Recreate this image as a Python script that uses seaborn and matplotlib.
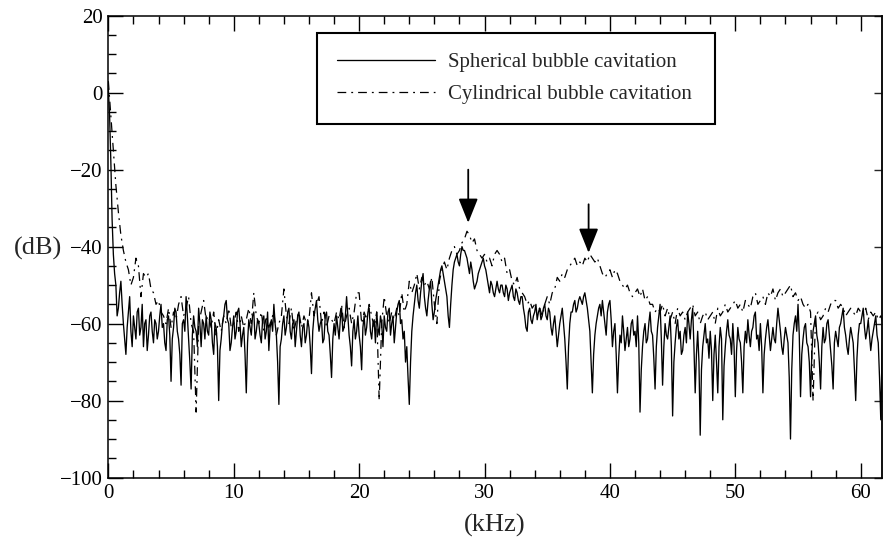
import numpy as np
import pandas as pd
import matplotlib
matplotlib.use("Agg")
import matplotlib.pyplot as plt
from matplotlib.ticker import MultipleLocator
import seaborn as sns

# Frequency grids of the two spectra (kHz)
sph_start_khz, sph_step_khz = 0.0, 0.1
cyl_start_khz, cyl_step_khz = 0.0, 0.2

# Spectrum level, spherical bubble cavitation (dB), one row per 1 kHz
spherical_db = [
    1, -6, -18, -33, -42, -47, -50, -58, -56, -52,
    -49, -55, -60, -64, -68, -61, -57, -53, -62, -66,
    -58, -61, -64, -57, -56, -63, -61, -55, -66, -60,
    -59, -67, -63, -58, -57, -62, -65, -59, -60, -64,
    -62, -58, -55, -61, -60, -65, -67, -59, -58, -63,
    -75, -64, -61, -56, -57, -62, -64, -68, -76, -60,
    -59, -62, -53, -58, -64, -70, -77, -63, -58, -61,
    -62, -66, -56, -60, -66, -59, -60, -64, -58, -62,
    -63, -57, -59, -65, -68, -60, -61, -66, -80, -67,
    -64, -60, -58, -55, -54, -59, -60, -67, -65, -61,
    -58, -64, -62, -57, -56, -60, -66, -63, -61, -68,
    -78, -65, -59, -61, -63, -58, -57, -64, -62, -59,
    -60, -63, -65, -59, -58, -64, -62, -57, -67, -61,
    -59, -62, -55, -60, -63, -70, -81, -66, -64, -60,
    -58, -63, -61, -57, -56, -62, -64, -60, -59, -66,
    -62, -58, -57, -63, -66, -61, -60, -65, -63, -59,
    -61, -66, -73, -62, -58, -56, -54, -59, -62, -60,
    -59, -65, -64, -58, -57, -62, -63, -68, -74, -64,
    -60, -63, -58, -61, -64, -59, -56, -62, -61, -58,
    -53, -58, -63, -66, -71, -62, -59, -64, -62, -58,
    -63, -66, -72, -61, -58, -63, -61, -57, -56, -62,
    -64, -60, -59, -65, -57, -61, -63, -58, -60, -66,
    -58, -61, -62, -57, -56, -63, -60, -58, -65, -61,
    -57, -55, -54, -60, -59, -64, -62, -70, -66, -74,
    -81, -70, -62, -58, -55, -52, -50, -54, -56, -52,
    -49, -47, -53, -56, -58, -54, -51, -49, -55, -59,
    -57, -54, -52, -50, -48, -46, -45, -47, -49, -51,
    -53, -58, -61, -55, -50, -46, -44, -43, -42, -44,
    -45, -42, -40, -41, -41, -42, -43, -45, -47, -44,
    -46, -49, -51, -50, -49, -47, -46, -45, -44, -43,
    -45, -46, -48, -50, -52, -49, -50, -52, -53, -51,
    -49, -51, -52, -50, -50, -52, -53, -50, -51, -54,
    -52, -51, -50, -53, -54, -51, -52, -54, -55, -53,
    -53, -56, -58, -61, -62, -57, -56, -59, -60, -58,
    -57, -55, -59, -57, -56, -59, -58, -56, -55, -58,
    -59, -56, -57, -61, -63, -60, -58, -62, -66, -63,
    -60, -58, -56, -60, -64, -70, -77, -66, -60, -57,
    -57, -55, -54, -57, -56, -54, -53, -54, -55, -53,
    -52, -54, -56, -59, -62, -70, -78, -68, -63, -60,
    -58, -56, -55, -58, -54, -57, -60, -63, -57, -55,
    -54, -59, -66, -62, -60, -68, -78, -69, -63, -65,
    -58, -62, -67, -64, -61, -66, -64, -60, -59, -63,
    -62, -66, -58, -65, -83, -72, -66, -62, -60, -65,
    -64, -60, -57, -62, -63, -69, -77, -66, -61, -58,
    -55, -64, -76, -66, -60, -63, -64, -61, -58, -66,
    -84, -70, -65, -61, -59, -64, -62, -68, -67, -63,
    -61, -65, -57, -60, -64, -59, -56, -66, -78, -68,
    -62, -70, -89, -72, -66, -63, -60, -65, -64, -69,
    -62, -67, -80, -68, -63, -70, -78, -66, -61, -64,
    -85, -71, -66, -62, -59, -63, -64, -68, -60, -66,
    -79, -67, -61, -64, -65, -70, -78, -66, -62, -65,
    -59, -63, -66, -62, -61, -58, -57, -64, -63, -67,
    -60, -66, -78, -68, -64, -61, -59, -63, -67, -64,
    -61, -64, -65, -60, -56, -59, -62, -66, -68, -64,
    -61, -63, -65, -74, -90, -72, -63, -60, -58, -62,
    -55, -63, -79, -68, -64, -61, -60, -65, -66, -70,
    -79, -68, -62, -60, -58, -63, -65, -70, -77, -66,
    -61, -65, -64, -60, -59, -63, -67, -71, -77, -65,
    -62, -64, -66, -61, -60, -58, -56, -61, -63, -66,
    -68, -64, -61, -63, -65, -72, -80, -69, -63, -60,
    -60, -58, -56, -61, -64, -62, -59, -63, -67, -64,
    -62, -60, -58, -63, -65, -74, -85, -68, -60, -63,
]

# Spectrum level, cylindrical bubble cavitation (dB), one row per 2 kHz
cylindrical_db = [
    3, -6, -15, -24, -31, -37, -41, -44, -46, -50,
    -48, -43, -45, -53, -47, -48, -47, -51, -52, -55,
    -54, -57, -58, -60, -56, -61, -57, -59, -55, -53,
    -58, -56, -53, -60, -62, -83, -60, -57, -54, -59,
    -58, -61, -57, -63, -59, -62, -58, -60, -56, -61,
    -60, -57, -62, -58, -61, -59, -56, -60, -52, -58,
    -60, -57, -62, -58, -61, -59, -57, -63, -60, -58,
    -51, -58, -60, -56, -62, -59, -57, -61, -58, -60,
    -59, -52, -58, -55, -53, -60, -57, -61, -58, -59,
    -60, -57, -59, -55, -61, -58, -56, -60, -57, -52,
    -52, -60, -57, -59, -55, -58, -61, -57, -80, -60,
    -53, -58, -60, -57, -59, -56, -58, -52, -57, -55,
    -49, -52, -50, -47, -51, -48, -50, -49, -51, -48,
    -55, -60, -49, -46, -44, -46, -43, -41, -40, -42,
    -41, -39, -38, -36, -37, -39, -38, -41, -42, -43,
    -42, -44, -43, -45, -42, -41, -42, -44, -43, -47,
    -46, -49, -50, -48, -51, -52, -53, -55, -54, -56,
    -55, -57, -56, -58, -55, -53, -55, -52, -51, -48,
    -49, -47, -48, -46, -45, -44, -43, -45, -44, -45,
    -43, -44, -42, -43, -44, -43, -45, -47, -48, -47,
    -46, -48, -46, -47, -49, -50, -51, -50, -52, -53,
    -52, -51, -53, -51, -54, -53, -55, -55, -57, -56,
    -57, -55, -58, -56, -59, -57, -60, -56, -58, -57,
    -59, -57, -56, -55, -58, -57, -60, -58, -57, -59,
    -58, -57, -60, -56, -58, -57, -55, -57, -56, -55,
    -54, -56, -55, -57, -54, -55, -56, -53, -52, -55,
    -54, -53, -55, -52, -53, -51, -54, -52, -51, -53,
    -52, -51, -50, -53, -52, -54, -53, -55, -56, -55,
    -57, -80, -58, -57, -59, -58, -56, -57, -55, -54,
    -54, -56, -55, -56, -58, -57, -56, -57, -58, -56,
    -57, -58, -56, -59, -57, -58, -57, -59, -58, -60,
]

series_labels = ["Spherical bubble cavitation", "Cylindrical bubble cavitation"]

# Resonance peaks marked with arrows (kHz, arrow tail dB, arrow tip dB)
peak_khz = [28.7, 38.3]
arrow_tail_db = [-20.0, -29.0]
arrow_tip_db = [-33.8, -41.6]

sph_khz = np.round(sph_start_khz + sph_step_khz * np.arange(len(spherical_db)), 2)
cyl_khz = np.round(cyl_start_khz + cyl_step_khz * np.arange(len(cylindrical_db)), 2)
df_sph = pd.DataFrame({"kHz": sph_khz, "dB": spherical_db})
df_cyl = pd.DataFrame({"kHz": cyl_khz, "dB": cylindrical_db})

sns.set_style("ticks")
plt.rcParams["font.family"] = ["Liberation Serif", "DejaVu Serif"]

fig = plt.figure(figsize=(8.83, 5.44), dpi=100)
ax = fig.add_axes([0.1227, 0.1222, 0.8762, 0.8489])

dashdot = (0, (7, 4, 1.5, 4))
sns.lineplot(data=df_cyl, x="kHz", y="dB", ax=ax, color="black", lw=0.9,
             linestyle=dashdot, estimator=None, label=series_labels[1])
sns.lineplot(data=df_sph, x="kHz", y="dB", ax=ax, color="black", lw=0.95,
             estimator=None, label=series_labels[0])

for fx, ty, hy in zip(peak_khz, arrow_tail_db, arrow_tip_db):
    ax.annotate("", xy=(fx, hy), xytext=(fx, ty),
                arrowprops=dict(arrowstyle="-|>,head_length=0.75,head_width=0.3",
                                mutation_scale=20, lw=1.3, color="black",
                                shrinkA=0, shrinkB=0))

ax.set_xlim(0, 61.7)
ax.set_ylim(-100, 20)
ax.xaxis.set_major_locator(MultipleLocator(10))
ax.xaxis.set_minor_locator(MultipleLocator(2))
ax.yaxis.set_major_locator(MultipleLocator(20))
ax.yaxis.set_minor_locator(MultipleLocator(5))
ax.tick_params(axis="both", which="both", direction="in", colors="black",
               labelsize=15, width=1.0)
ax.tick_params(axis="x", which="both", top=True)
ax.tick_params(axis="both", which="major", length=11)
ax.tick_params(axis="both", which="minor", length=6)
ax.tick_params(axis="x", which="major", pad=5)
ax.tick_params(axis="y", which="major", pad=4)

right = ax.secondary_yaxis("right")
right.yaxis.set_major_locator(MultipleLocator(20))
right.tick_params(direction="in", length=6, width=1.0, labelright=False)

for s in ax.spines.values():
    s.set_linewidth(1.1)
    s.set_color("black")
right.spines["right"].set_linewidth(1.1)

ax.set_xlabel("(kHz)", fontsize=19)
ax.set_ylabel("(dB)", fontsize=19, rotation=0, ha="center", va="center")
ax.xaxis.set_label_coords(0.5, -0.078)
ax.yaxis.set_label_coords(-0.091, 0.497)

handles, labels = ax.get_legend_handles_labels()
order = [labels.index(series_labels[0]), labels.index(series_labels[1])]
leg = ax.legend([handles[i] for i in order], [labels[i] for i in order],
                loc="upper left", bbox_to_anchor=(0.2697, 0.9625, 0.5143, 0.0),
                mode="expand", fontsize=15, frameon=True, fancybox=False,
                handlelength=4.7, handletextpad=0.65, labelspacing=0.6,
                borderpad=0.95, borderaxespad=0.0)
leg.get_frame().set_edgecolor("black")
leg.get_frame().set_linewidth(1.5)
leg.get_frame().set_alpha(1.0)

fig.savefig("out.png", dpi=100, facecolor="white")
